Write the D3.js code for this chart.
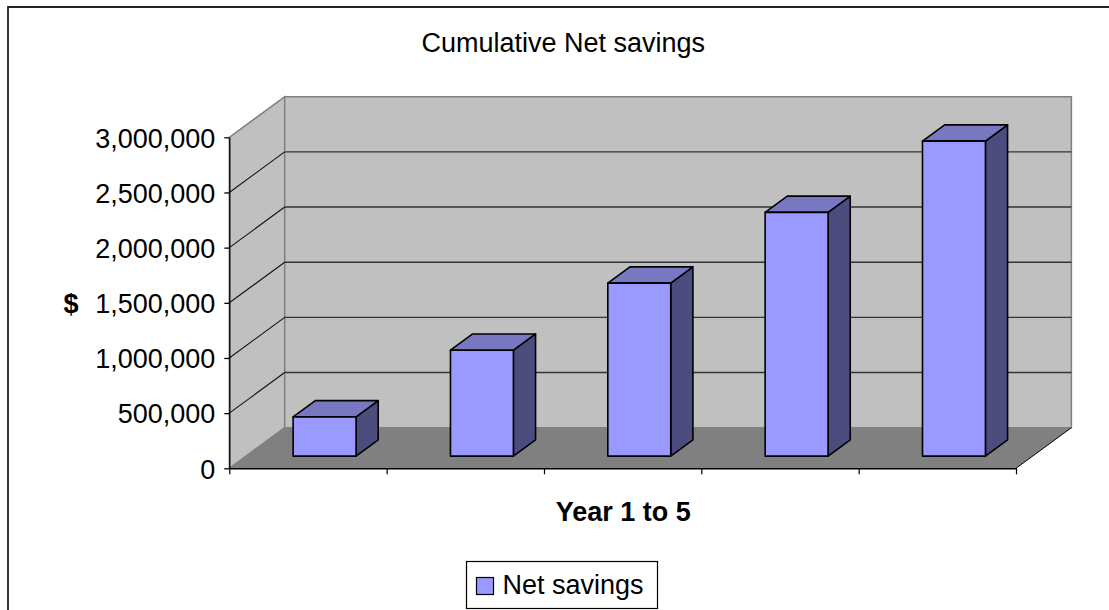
<!DOCTYPE html>
<html>
<head>
<meta charset="utf-8">
<script src="https://cdn.jsdelivr.net/npm/d3@7/dist/d3.min.js"></script>
<style>
  html, body { margin: 0; padding: 0; background: #fff; }
  svg { display: block; font-family: "Liberation Sans", Arial, sans-serif; }
</style>
</head>
<body>
<svg id="chart" width="1109" height="610"></svg>
<script>
// ---- data ----
const categories = ["Year 1", "Year 2", "Year 3", "Year 4", "Year 5"];
const netSavings = [356000, 960000, 1568000, 2209000, 2855000];
const yTickValues = [0, 500000, 1000000, 1500000, 2000000, 2500000, 3000000];
const titleText = "Cumulative Net savings";
const xAxisTitle = "Year 1 to 5";
const yAxisTitle = "$";
const seriesName = "Net savings";

// ---- layout ----
const svg = d3.select("#chart");
const x0 = 229.3, x1 = 1016;         // front plane x range
const yBottom = 468.3, yTop = 137.3;  // front plane y range
const depthX = 55.4, depthY = 40.6;   // 3D depth offset
const depthFront = 0.3, depthBack = 0.7;

const x = d3.scaleBand().domain(categories).range([x0, x1]).paddingInner(0).paddingOuter(0);
const y = d3.scaleLinear().domain([0, 3000000]).range([yBottom, yTop]);

const col = {
  wall: "#c0c0c0", wallEdge: "#808080", floor: "#808080",
  front: "#9999ff", top: "#7777c2", side: "#4c4c7e"
};

// outer frame
svg.append("path")
  .attr("d", "M8,620 L8,7 L1120,7")
  .attr("fill", "none").attr("stroke", "#222").attr("stroke-width", 1.8);

const g = svg.append("g");

// point helper: front-plane (px, py) shifted by depth d
const P = (px, py, d) => [px + d * depthX, py - d * depthY];
const poly = pts => "M" + pts.map(p => p.join(",")).join("L") + "Z";

// left wall
g.append("path")
  .attr("d", poly([P(x0, yTop, 0), P(x0, yTop, 1), P(x0, yBottom, 1), P(x0, yBottom, 0)]))
  .attr("fill", col.wall).attr("stroke", col.wallEdge).attr("stroke-width", 1.5);
// back wall
g.append("path")
  .attr("d", poly([P(x0, yTop, 1), P(x1, yTop, 1), P(x1, yBottom, 1), P(x0, yBottom, 1)]))
  .attr("fill", col.wall).attr("stroke", col.wallEdge).attr("stroke-width", 1.5);
// floor
g.append("path")
  .attr("d", poly([P(x0, yBottom, 0), P(x0, yBottom, 1), P(x1, yBottom, 1), P(x1, yBottom, 0)]))
  .attr("fill", col.floor).attr("stroke", "none");
// floor right edge
g.append("line")
  .attr("x1", x1).attr("y1", yBottom)
  .attr("x2", P(x1, yBottom, 1)[0]).attr("y2", P(x1, yBottom, 1)[1])
  .attr("stroke", "#000").attr("stroke-width", 1);

// gridlines
const gridVals = yTickValues.filter(v => v > 0 && v < 3000000);
g.selectAll(".gridBack").data(gridVals).join("line")
  .attr("x1", P(x0, 0, 1)[0]).attr("x2", P(x1, 0, 1)[0])
  .attr("y1", d => P(0, y(d), 1)[1]).attr("y2", d => P(0, y(d), 1)[1])
  .attr("stroke", "#333").attr("stroke-width", 1.4);
g.selectAll(".gridLeft").data(gridVals).join("line")
  .attr("x1", x0).attr("y1", d => y(d))
  .attr("x2", P(x0, 0, 1)[0]).attr("y2", d => P(0, y(d), 1)[1])
  .attr("stroke", "#111").attr("stroke-width", 1.1);

// y axis
const yAxis = svg.append("g").attr("transform", `translate(${x0},0)`)
  .call(d3.axisLeft(y).tickValues(yTickValues).tickSize(5).tickSizeOuter(0).tickPadding(9)
    .tickFormat(d3.format(",")));
yAxis.select(".domain").attr("stroke", "#000").attr("stroke-width", 1.3);
yAxis.selectAll(".tick line").attr("stroke", "#000").attr("stroke-width", 1.3);
yAxis.selectAll(".tick text").attr("font-size", 27).attr("fill", "#000")
  .attr("font-family", "'Liberation Sans', Arial, sans-serif").attr("dy", "0.36em");

// x axis (boundary ticks)
const xb = d3.scaleLinear().domain([0, categories.length]).range([x0, x1]);
const xAxis = svg.append("g").attr("transform", `translate(0,${yBottom})`)
  .call(d3.axisBottom(xb).tickValues(d3.range(categories.length + 1)).tickSize(6).tickSizeOuter(0)
    .tickFormat(""));
xAxis.select(".domain").attr("stroke", "#000").attr("stroke-width", 1.5);
xAxis.selectAll(".tick line").attr("stroke", "#000").attr("stroke-width", 1.2);

// bars
const bw = x.bandwidth() * 0.4;
const bars = g.selectAll(".bar").data(categories.map((c, i) => ({ c, v: netSavings[i] }))).join("g");
bars.each(function(d) {
  const sel = d3.select(this);
  const L = x(d.c) + x.bandwidth() * 0.3, R = L + bw;
  const yt = y(d.v), yb = y(0);
  const f = depthFront, b = depthBack;
  const attrs = s => s.attr("stroke", "#000").attr("stroke-width", 1.6).attr("stroke-linejoin", "round");
  // side
  sel.append("path").attr("d", poly([P(R, yt, f), P(R, yt, b), P(R, yb, b), P(R, yb, f)]))
    .attr("fill", col.side).call(attrs);
  // top
  sel.append("path").attr("d", poly([P(L, yt, f), P(L, yt, b), P(R, yt, b), P(R, yt, f)]))
    .attr("fill", col.top).call(attrs);
  // front
  sel.append("path").attr("d", poly([P(L, yt, f), P(R, yt, f), P(R, yb, f), P(L, yb, f)]))
    .attr("fill", col.front).call(attrs);
});

// title
svg.append("text").attr("x", 563.3).attr("y", 51.7).attr("text-anchor", "middle")
  .attr("font-size", 27).attr("fill", "#000").text(titleText);

// axis titles
svg.append("text").attr("x", 623.3).attr("y", 520.5).attr("text-anchor", "middle")
  .attr("font-size", 27).attr("font-weight", "bold").attr("fill", "#000").text(xAxisTitle);
svg.append("text").attr("x", 71).attr("y", 312.5).attr("text-anchor", "middle")
  .attr("font-size", 27).attr("font-weight", "bold").attr("fill", "#000").text(yAxisTitle);

// legend
const lg = svg.append("g");
lg.append("rect").attr("x", 466.5).attr("y", 561.5).attr("width", 191).attr("height", 47)
  .attr("fill", "#fff").attr("stroke", "#000").attr("stroke-width", 1.2);
lg.append("rect").attr("x", 476.5).attr("y", 577.5).attr("width", 17).attr("height", 17)
  .attr("fill", col.front).attr("stroke", "#000").attr("stroke-width", 1.2);
lg.append("text").attr("x", 502.5).attr("y", 593.5).attr("font-size", 27).attr("fill", "#000")
  .text(seriesName);
</script>
</body>
</html>
